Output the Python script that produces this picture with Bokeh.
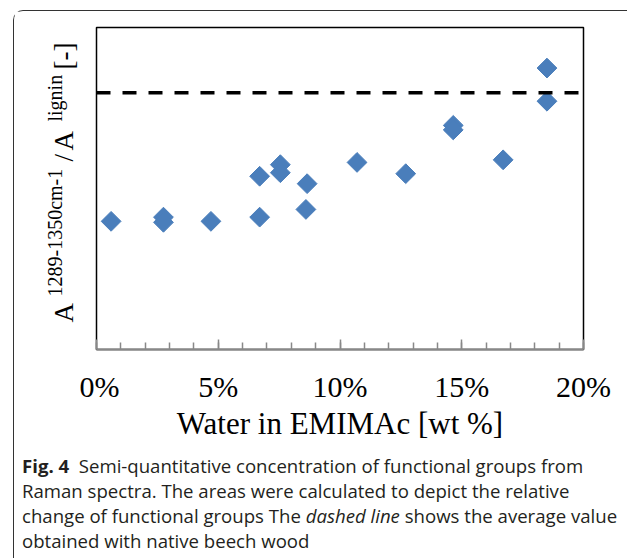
import numpy as np
from bokeh.plotting import figure
from bokeh.models import Range1d, FixedTicker, Span, Div, Column, Row
from bokeh.core.properties import value
from bokeh.embed import file_html
from bokeh.resources import INLINE

# ---- data ----
water_pct = [0.6, 2.75, 2.75, 4.7, 6.7, 6.7, 7.55, 7.55, 8.65, 8.6, 10.7,
             12.7, 14.65, 14.65, 16.7, 18.5, 18.5]
ratio = [0.398, 0.411, 0.395, 0.398, 0.538, 0.411, 0.574, 0.549, 0.515,
         0.435, 0.581, 0.546, 0.696, 0.682, 0.589, 0.874, 0.771]
native_beech = 0.797
x_ticks = [0, 5, 10, 15, 20]
x_tick_labels = ["0%", "5%", "10%", "15%", "20%"]
x_minor = list(range(0, 21))

SERIF = "Liberation Serif"
H = 437
TOP, FH = 16, 322
BOT = H - TOP - FH
LW = 65

# ---- main plot ----
p = figure(frame_width=487, frame_height=FH,
           min_border_left=17, min_border_right=43,
           min_border_top=TOP, min_border_bottom=BOT,
           x_range=Range1d(0, 20), y_range=Range1d(0, 1),
           output_backend="svg", toolbar_location=None,
           background_fill_color="white", border_fill_color="white")
p.grid.visible = False
p.yaxis.visible = False
p.outline_line_color = "black"
p.outline_line_width = 1.5

xa = p.xaxis[0]
xa.ticker = FixedTicker(ticks=x_ticks, minor_ticks=x_minor)
xa.major_label_overrides = {t: l for t, l in zip(x_ticks, x_tick_labels)}
xa.axis_line_color = "#888888"
xa.axis_line_width = 2
xa.major_tick_line_color = "#888888"
xa.minor_tick_line_color = "#888888"
xa.major_tick_line_width = 1.5
xa.minor_tick_line_width = 1.5
xa.major_tick_in = 10
xa.major_tick_out = 0
xa.minor_tick_in = 7
xa.minor_tick_out = 0
xa.major_label_text_font = SERIF
xa.major_label_text_font_size = "30px"
xa.major_label_text_color = "black"
xa.major_label_standoff = 20
xa.axis_label = "Water in EMIMAc [wt %]"
xa.axis_label_text_font = SERIF
xa.axis_label_text_font_size = "31px"
xa.axis_label_text_font_style = "normal"
xa.axis_label_text_color = "black"
xa.axis_label_standoff = 0

p.add_layout(Span(location=native_beech, dimension="width",
                  line_color="black", line_width=3.5, line_dash="14 12"))

p.scatter(water_pct, ratio, marker="square", size=14, angle=np.pi / 4,
          fill_color="#4A7EBB", line_color="#4A7EBB")

# ---- rotated y-axis title with superscripts (separate narrow panel) ----
lab = figure(width=LW, height=H, x_range=Range1d(0, LW), y_range=Range1d(0, FH),
             min_border_left=0, min_border_right=0,
             min_border_top=TOP, min_border_bottom=BOT,
             x_axis_location=None, y_axis_location=None,
             output_backend="svg", toolbar_location=None,
             background_fill_color="white", border_fill_color="white")
lab.grid.visible = False
lab.outline_line_color = None
# baseline x, start y (pixels inside the panel frame)
lab.text(x=[49, 49, 49, 49], y=[27, 188, 199, 280],
         text=["A", "/", "A", "[-]"], angle=np.pi / 2,
         text_font=value(SERIF), text_font_size="27px", text_color="black",
         text_align="left", text_baseline="alphabetic")
lab.text(x=[40, 40], y=[53, 228],
         text=["1289-1350cm-1", "lignin"], angle=np.pi / 2,
         text_font=value(SERIF), text_font_size="20px", text_color="black",
         text_align="left", text_baseline="alphabetic")

caption = Div(
    width=LW + 547, height=100,
    text=("<div style=\"font-family:'Open Sans';font-size:18.6px;line-height:25px;"
          "color:#231f20;white-space:nowrap;padding:0 0 0 3px\">"
          "<b>Fig. 4</b>&nbsp; Semi-quantitative concentration of functional groups from<br>"
          "Raman spectra. The areas were calculated to depict the relative<br>"
          "change of functional groups The <i>dashed line</i> shows the average value<br>"
          "obtained with native beech wood</div>"))

layout = Column(children=[Row(children=[lab, p], spacing=0), caption],
                margin=(10, 0, 0, 13), spacing=0,
                styles={"border-top": "1px solid #333333",
                        "border-left": "1px solid #333333",
                        "border-top-left-radius": "10px"})

open("out.html", "w").write(file_html(layout, INLINE))
